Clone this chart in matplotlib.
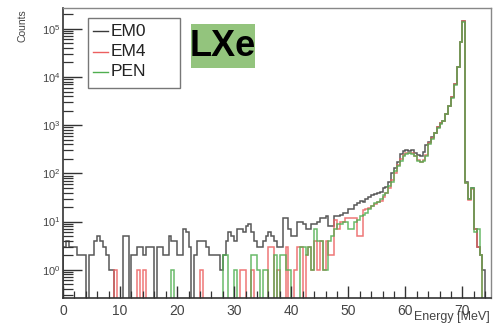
import numpy as np
import matplotlib
matplotlib.use("Agg")
import matplotlib.pyplot as plt
from matplotlib.ticker import FixedLocator, MultipleLocator, NullFormatter, LogFormatterSciNotation
from matplotlib.patches import Rectangle
from matplotlib.lines import Line2D

plt.rcParams['font.family'] = ['Liberation Sans', 'DejaVu Sans']

bin_width = 0.5
e_min, e_max = 0.0, 75.0

em0 = [3, 4, 3, 3, 3, 2, 2, 2, 0, 2, 2, 4, 5, 4, 3, 2, 1, 1, 0, 0,
       0, 5, 5, 0, 2, 2, 3, 3, 2, 3,
       3, 3, 0, 3, 3, 2, 2, 5, 4, 4, 2, 2, 7, 6, 3, 0, 2, 4, 4, 4,
       3, 2, 2, 2, 2, 1, 2, 4, 6, 5,
       4, 7, 7, 6, 8, 9, 6, 4, 3, 3, 4, 5, 6, 5, 4, 3, 3, 12, 12, 7,
       5, 5, 10, 10, 9, 7, 7, 9, 9, 10,
       12, 12, 13, 8, 8, 13, 13, 14, 15, 15, 18, 18, 22, 24, 27, 26, 30, 32, 36, 38,
       40, 42, 50, 52, 65, 100, 130, 170, 250, 290,
       300, 290, 300, 270, 240, 230, 280, 380, 450, 560, 700, 900, 1100, 1250, 1700, 2500,
       3800, 7000, 16000, 54000, 142000, 65, 29, 50, 7, 3, 2, 1, 0, 0]

em4 = [0] * 18 + [1, 0, 0, 0, 0, 0, 0, 0, 1, 0, 1, 0] + \
      [0] * 18 + [1] + [0] * 11 + \
      [0, 0, 1, 1, 0, 0, 1, 0, 0, 0, 0, 0, 3, 3, 0, 1, 0, 0, 3, 0,
       0, 1, 3, 3, 0, 2, 3, 1, 4, 1,
       4, 1, 4, 2, 2, 11, 7, 10, 10, 12, 12, 12, 12, 5, 5, 17, 18, 19, 21, 23,
       25, 27, 33, 40, 50, 72, 100, 150, 200, 240,
       260, 270, 260, 230, 190, 175, 190, 240, 420, 540, 690, 900, 1100, 1250, 1700, 2500,
       3800, 7000, 16000, 54000, 142000, 62, 28, 48, 7, 3, 2, 0, 0, 0]

pen = [0] * 38 + [1, 0] + \
      [0] * 16 + [2, 2, 0, 0] + \
      [1, 0, 0, 0, 0, 0, 2, 2, 1, 0, 1, 1, 0, 0, 2, 0, 2, 2, 1, 1,
       0, 0, 0, 3, 3, 2, 3, 1, 7, 4,
       4, 1, 1, 4, 5, 7, 9, 9, 10, 10, 7, 7, 10, 11, 13, 14, 15, 18, 21, 24,
       26, 30, 36, 40, 55, 65, 110, 140, 180, 230,
       255, 265, 255, 225, 185, 170, 185, 230, 400, 520, 680, 880, 1080, 1230, 1680, 2450,
       3700, 6900, 15800, 53000, 140000, 64, 29, 49, 6, 7, 2, 0, 0, 0]

labels = ["EM0", "EM4", "PEN"]
colors = ["#3a3a3a", "#ec5f5f", "#4fae4f"]
series = [em0, em4, pen]
y_ticks = [1, 10, 100, 1000, 10000, 100000]

edges = np.arange(e_min, e_max + bin_width / 2, bin_width)

W, H = 496, 325
fig = plt.figure(figsize=(W / 100, H / 100), dpi=100)
ax = fig.add_axes([63 / W, (H - 298) / H, (491 - 63) / W, (298 - 8) / H])

ymin, ymax = 0.26, 2.7e5
floor = 1e-3
for vals, col, lab in zip(series, colors, labels):
    v = np.asarray(vals, dtype=float)
    v = np.where(v > 0, v, floor)
    ax.stairs(v, edges, baseline=floor, color=col, linewidth=1.1, alpha=0.85, label=lab)

ax.set_yscale('log')
ax.set_xlim(e_min, e_max)
ax.set_ylim(ymin, ymax)

ax.xaxis.set_major_locator(MultipleLocator(10))
ax.xaxis.set_minor_locator(MultipleLocator(2))
ax.yaxis.set_major_locator(FixedLocator(y_ticks))
ax.yaxis.set_major_formatter(LogFormatterSciNotation())
minor = [m * 10.0 ** k for k in range(-1, 6) for m in range(2, 10)]
minor = [m for m in minor if ymin <= m <= ymax]
ax.yaxis.set_minor_locator(FixedLocator(minor))
ax.yaxis.set_minor_formatter(NullFormatter())

ax.tick_params(axis='both', which='both', direction='in', colors='#333333', labelcolor='#444444')
ax.tick_params(axis='x', which='major', length=9, width=1.0, labelsize=10, pad=4)
ax.tick_params(axis='x', which='minor', length=5, width=0.9)
ax.tick_params(axis='y', which='major', length=14, width=1.0, labelsize=8, pad=2)
ax.tick_params(axis='y', which='minor', length=7, width=0.9)
ax.tick_params(top=False, right=False)

for s in ['top', 'right']:
    ax.spines[s].set_color('#888888')
    ax.spines[s].set_linewidth(1.0)
for s in ['left', 'bottom']:
    ax.spines[s].set_color('#333333')
    ax.spines[s].set_linewidth(1.2)

fig.text(22 / W, 1 - 9 / H, "Counts", rotation=90, ha='center', va='top',
         fontsize=7.5, color='#444444')
fig.text(490 / W, 1 - 317 / H, "Energy [MeV]", ha='right', va='center',
         fontsize=9, color='#444444')

# legend box (ROOT-style)
fig.patches.append(Rectangle((88 / W, 1 - 88 / H), (180 - 88) / W, (88 - 18) / H,
                             transform=fig.transFigure, facecolor='white',
                             edgecolor='#777777', linewidth=1.0, zorder=5))
for i, (lab, col) in enumerate(zip(labels, colors)):
    yc = 1 - (31 + 20.5 * i) / H
    fig.lines.append(Line2D([93 / W, 108 / W], [yc, yc], transform=fig.transFigure,
                            color=col, linewidth=1.0, zorder=6))
    fig.text(111 / W, yc, lab, ha='left', va='center', fontsize=12.5,
             color='#222222', zorder=7)

# LXe tag
fig.patches.append(Rectangle((191 / W, 1 - 68 / H), (255 - 191) / W, (68 - 24) / H,
                             transform=fig.transFigure, facecolor='#93c47d',
                             edgecolor='none', zorder=5))
fig.text(223 / W, 1 - 46.5 / H, "LXe", ha='center', va='center', fontsize=26,
         fontweight='bold', color='black', zorder=7)

fig.savefig("out.png", dpi=100)
